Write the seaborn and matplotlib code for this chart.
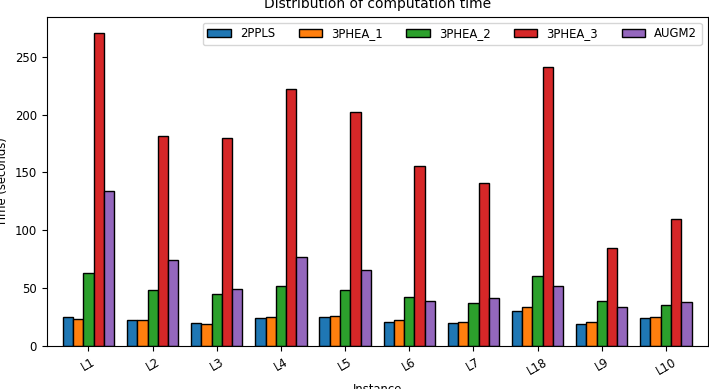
import pandas as pd
import seaborn as sns
import matplotlib.pyplot as plt

instances = ['L1', 'L2', 'L3', 'L4', 'L5', 'L6', 'L7', 'L18', 'L9', 'L10']
ppls2 = [25, 22, 20, 24, 25, 21, 20, 30, 19, 24]
phea1 = [23, 22, 19, 25, 26, 22, 21, 34, 21, 25]
phea2 = [63, 48, 45, 52, 48, 42, 37, 60, 39, 35]
phea3 = [271, 182, 180, 222, 202, 156, 141, 241, 85, 110]
augm2 = [134, 74, 49, 77, 66, 39, 41, 52, 34, 38]

methods = {
    '2PPLS': ppls2,
    '3PHEA_1': phea1,
    '3PHEA_2': phea2,
    '3PHEA_3': phea3,
    'AUGM2': augm2,
}

rows = []
for name, vals in methods.items():
    for inst, v in zip(instances, vals):
        rows.append({'Instance': inst, 'Method': name, 'Time': v})
df = pd.DataFrame(rows)

plt.rcParams['font.size'] = 8.4

fig, ax = plt.subplots(figsize=(7.09, 3.89), dpi=100)
sns.barplot(data=df, x='Instance', y='Time', hue='Method', order=instances,
            hue_order=list(methods.keys()), palette='tab10', saturation=1,
            edgecolor='black', linewidth=1, width=0.8, ax=ax)

ax.set_title('Distribution of computation time', fontsize=10)
ax.set_xlabel('Instance')
ax.set_ylabel('Time (seconds)')
ax.set_xlim(-0.65, 9.65)
ax.set_ylim(0, 284.8)
ax.tick_params(axis='x', rotation=30)
ax.legend(loc='upper right', ncol=5)
plt.subplots_adjust(left=0.066, right=0.998, bottom=0.111, top=0.957)
plt.savefig('out.png')
plt.close()
